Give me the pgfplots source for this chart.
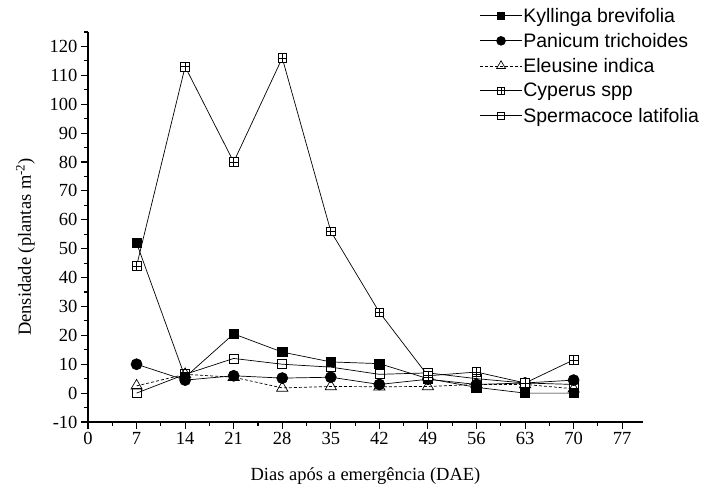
\documentclass[border=0pt]{standalone}
\usepackage{fontspec}
\setmainfont{Liberation Serif}
\newfontfamily\legendfont{Liberation Sans}
\usepackage{pgfplots}
\pgfplotsset{compat=1.18}

% square with a plus inside, for Cyperus spp
\pgfdeclareplotmark{boxplus}{%
  \pgfpathrectangle{\pgfqpoint{-\pgfplotmarksize}{-\pgfplotmarksize}}{\pgfqpoint{2\pgfplotmarksize}{2\pgfplotmarksize}}%
  \pgfpathmoveto{\pgfqpoint{-\pgfplotmarksize}{0pt}}\pgfpathlineto{\pgfqpoint{\pgfplotmarksize}{0pt}}%
  \pgfpathmoveto{\pgfqpoint{0pt}{-\pgfplotmarksize}}\pgfpathlineto{\pgfqpoint{0pt}{\pgfplotmarksize}}%
  \pgfusepathqfillstroke}

\begin{document}
\begin{tikzpicture}
\begin{axis}[
  scale only axis,
  width=555pt, height=390pt,
  xmin=0, xmax=80, ymin=-10, ymax=125,
  axis x line=bottom, axis y line=left,
  axis line style={-, line width=1.1pt},
  xtick={0,7,...,77}, minor xtick={3.5,10.5,...,80},
  ytick={-10,0,...,120}, minor ytick={-5,5,...,125},
  tick align=outside,
  major tick length=7pt, minor tick length=4pt,
  every tick/.style={black, line width=1.1pt},
  /pgf/number format/assume math mode=true,
  tick label style={font=\fontsize{18.5}{22}\selectfont},
  xlabel={Dias após a emergência (DAE)},
  ylabel={Densidade (plantas m\textsuperscript{-2})},
  label style={font=\fontsize{18.5}{22}\selectfont},
  xlabel style={yshift=-16pt},
  ylabel style={yshift=8pt, xshift=-20pt},
  legend style={at={(0.70,1.07)}, anchor=north west, draw=none, fill=none,
    font=\legendfont\fontsize{19.5}{23}\selectfont, row sep=7.5pt,
    nodes={inner sep=1pt}},
  legend cell align=left,
  legend image code/.code={%
    \draw[#1, mark=none] (0pt,0pt) -- (42pt,0pt);
    \draw[#1, only marks, /tikz/every mark/.append style={scale=0.8}] plot coordinates {(21pt,0pt)};},
  every axis plot/.append style={line width=0.7pt, black},
  clip=false,
]
\addplot[mark=square*, mark size=4.7pt, mark options={solid}] coordinates {
  (7,52) (14,5.5) (21,20.5) (28,14.2) (35,10.8) (42,10.2) (49,5) (56,2) (63,0) (70,0)};
\addlegendentry{Kyllinga brevifolia}
\addplot[mark=*, mark size=5.5pt, mark options={solid}] coordinates {
  (7,10) (14,4.5) (21,6) (28,5.2) (35,5.5) (42,3) (49,4.8) (56,3) (63,3.5) (70,4.5)};
\addlegendentry{Panicum trichoides}
\addplot[densely dashed, mark=triangle, mark size=6.5pt, mark options={solid, fill=white}] coordinates {
  (7,2.5) (14,6.5) (21,5.5) (28,1.8) (35,2.3) (42,2.2) (49,2.3) (56,3) (63,3) (70,1.5)};
\addlegendentry{Eleusine indica}
\addplot[mark=boxplus, mark size=4.3pt, mark options={solid, fill=white}] coordinates {
  (7,44) (14,113) (21,80) (28,116) (35,56) (42,28) (49,6) (56,7.3) (63,3.5) (70,11.5)};
\addlegendentry{Cyperus spp}
\addplot[mark=square, mark size=4.5pt, mark options={solid, fill=white}] coordinates {
  (7,0) (14,6.5) (21,12) (28,10) (35,9) (42,6.5) (49,7) (56,5) (63,3.5) (70,3)};
\addlegendentry{Spermacoce latifolia}
\end{axis}
\pgfresetboundingbox
\path (-88pt,-66pt) rectangle (619pt,422pt);
\end{tikzpicture}
\end{document}
